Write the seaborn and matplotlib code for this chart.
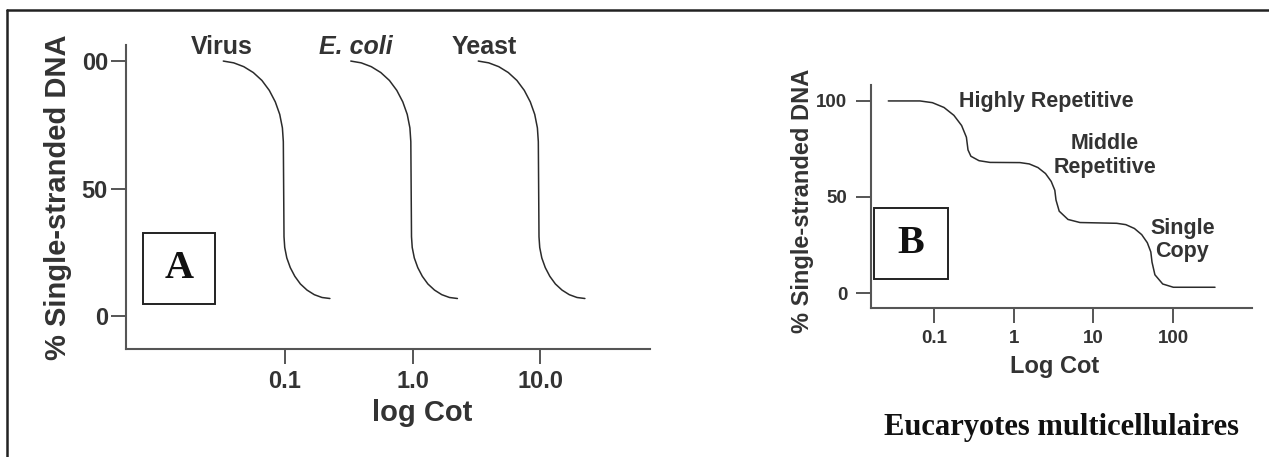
import numpy as np
import pandas as pd
import matplotlib
matplotlib.use("Agg")
import matplotlib.pyplot as plt
from matplotlib.patches import Rectangle
from matplotlib.lines import Line2D
from matplotlib.ticker import NullLocator, FixedLocator, FixedFormatter
import seaborn as sns

# ---------------- data ----------------
# Panel A: renaturation curves (Cot, % single-stranded)
virus_cot = [0.0328, 0.0396, 0.0475, 0.0564, 0.0659, 0.0753, 0.0839, 0.0909,
             0.0954, 0.0970, 0.0982, 0.0995, 0.1033, 0.110, 0.1194, 0.132,
             0.1488, 0.1697, 0.195, 0.225]
ecoli_cot = [0.328, 0.396, 0.475, 0.564, 0.659, 0.753, 0.839, 0.909,
             0.954, 0.970, 0.982, 0.995, 1.033, 1.10, 1.194, 1.32,
             1.488, 1.697, 1.95, 2.25]
yeast_cot = [3.28, 3.96, 4.75, 5.64, 6.59, 7.53, 8.39, 9.09,
             9.54, 9.70, 9.82, 9.95, 10.33, 11.0, 11.94, 13.2,
             14.88, 16.97, 19.5, 22.5]
curve_a_pct = [100, 99.3, 97.8, 95.5, 92.4, 88.5, 84.0, 79.1,
               73.8, 68.4, 31.1, 26.9, 22.8, 19.0, 15.6, 12.6,
               10.2, 8.4, 7.3, 6.9]
a_series = ["Virus", "E. coli", "Yeast"]
a_label_cot = [0.032, 0.36, 3.64]

a_xticks = [0.1, 1.0, 10.0]
a_xticklabels = ["0.1", "1.0", "10.0"]
a_yticks = [0, 50, 100]
a_yticklabels = ["0", "50", "00"]

# Panel B: eukaryote curve
euk_cot = [0.0267, 0.0667, 0.0955, 0.1335, 0.1777, 0.2220, 0.2550, 0.2671,
           0.2904, 0.3669, 0.5042, 1.20, 1.569, 2.018, 2.506, 2.954, 3.279,
           3.394, 3.724, 4.800, 6.790, 19.60, 25.50, 32.69, 40.36, 47.46,
           52.51, 54.36, 59.10, 74.06, 100.6, 335.6]
euk_pct = [100, 100, 99.1, 96.6, 92.5, 87.2, 81.1, 74.5,
           71.2, 68.9, 68.0, 67.9, 67.2, 65.3, 62.2, 58.1, 53.5,
           48.4, 42.6, 38.3, 36.7, 36.3, 35.6, 33.6, 30.4, 26.2,
           21.4, 16.1, 9.5, 4.7, 3.0, 3.0]
b_fractions = ["Highly Repetitive", "Middle\nRepetitive", "Single\nCopy"]
b_frac_cot = [2.54, 14.0, 131]
b_frac_pct = [99.5, 71.6, 27.6]

b_xticks = [0.1, 1, 10, 100]
b_xticklabels = ["0.1", "1", "10", "100"]
b_yticks = [0, 50, 100]
b_yticklabels = ["0", "50", "100"]

# ---------------- style ----------------
sns.set_theme(style="ticks")
plt.rcParams["font.family"] = ["Liberation Sans", "DejaVu Sans"]
plt.rcParams["font.weight"] = "bold"

W, H = 1269, 457
fig = plt.figure(figsize=(W / 100, H / 100), dpi=100)
fig.patch.set_facecolor("white")

txt = "#333333"
axc = "#555555"
curve_c = "#2b2b2b"


def px_axes(x0, y0, x1, y1):
    return fig.add_axes([x0 / W, 1 - y1 / H, (x1 - x0) / W, (y1 - y0) / H])


def style_axes(ax, tick_size, pad_x, pad_y):
    for s in ["top", "right"]:
        ax.spines[s].set_visible(False)
    for s in ["left", "bottom"]:
        ax.spines[s].set_color(axc)
        ax.spines[s].set_linewidth(1.5)
    ax.set_xscale("log")
    ax.xaxis.set_minor_locator(NullLocator())
    ax.yaxis.set_minor_locator(NullLocator())
    ax.tick_params(axis="both", direction="out", length=11, width=1.4,
                   color=axc, labelcolor=txt, labelsize=tick_size)
    ax.tick_params(axis="x", pad=pad_x)
    ax.tick_params(axis="y", pad=pad_y)
    ax.set_facecolor("white")
    ax.grid(False)


# ---------------- Panel A ----------------
axA = px_axes(126, 45, 650, 349)
for cot in [virus_cot, ecoli_cot, yeast_cot]:
    sns.lineplot(x=cot, y=curve_a_pct, ax=axA, estimator=None, sort=False,
                 color=curve_c, linewidth=1.1)
style_axes(axA, 17, 4, 2)
axA.set_xlim(0.00566, 72.9)
axA.set_ylim(-12.9, 106.3)
axA.xaxis.set_major_locator(FixedLocator(a_xticks))
axA.xaxis.set_major_formatter(FixedFormatter(a_xticklabels))
axA.yaxis.set_major_locator(FixedLocator(a_yticks))
axA.yaxis.set_major_formatter(FixedFormatter(a_yticklabels))
axA.set_xlabel("log Cot", fontsize=21, fontweight="bold", color=txt)
axA.xaxis.set_label_coords(0.565, -0.165)
axA.set_ylabel("% Single-stranded DNA", fontsize=21, fontweight="bold", color=txt)
axA.yaxis.set_label_coords(-0.103, 0.5)
for name, cx in zip(a_series, a_label_cot):
    axA.text(cx, 105.5, name, ha="center", va="center", fontsize=18,
             fontweight="bold", color=txt,
             fontstyle="italic" if name == "E. coli" else "normal",
             clip_on=False)
axA.add_patch(Rectangle((0.0324, 0.148), 0.1374, 0.2336, transform=axA.transAxes,
                        fill=False, edgecolor="#222222", linewidth=1.4, clip_on=False))
axA.text(0.101, 0.265, "A", transform=axA.transAxes, ha="center", va="center",
         fontsize=29, fontweight="bold", family=["Liberation Serif", "DejaVu Serif"],
         color="#111111")

# ---------------- Panel B ----------------
axB = px_axes(871, 85, 1252, 308)
sns.lineplot(x=euk_cot, y=euk_pct, ax=axB, estimator=None, sort=False,
             color=curve_c, linewidth=1.1)
style_axes(axB, 13.5, 5, 6)
axB.set_xlim(0.0162, 977)
axB.set_ylim(-7.8, 108.3)
axB.xaxis.set_major_locator(FixedLocator(b_xticks))
axB.xaxis.set_major_formatter(FixedFormatter(b_xticklabels))
axB.yaxis.set_major_locator(FixedLocator(b_yticks))
axB.yaxis.set_major_formatter(FixedFormatter(b_yticklabels))
axB.set_xlabel("Log Cot", fontsize=17, fontweight="bold", color=txt)
axB.xaxis.set_label_coords(0.483, -0.21)
axB.set_ylabel("% Single-stranded DNA", fontsize=17, fontweight="bold", color=txt)
axB.yaxis.set_label_coords(-0.150, 0.48)
for name, cx, cy in zip(b_fractions, b_frac_cot, b_frac_pct):
    axB.text(cx, cy, name, ha="center", va="center", fontsize=15.5,
             fontweight="bold", color=txt, multialignment="center",
             linespacing=1.15, clip_on=False)
axB.add_patch(Rectangle((0.0079, 0.130), 0.194, 0.318, transform=axB.transAxes,
                        fill=False, edgecolor="#222222", linewidth=1.4, clip_on=False))
axB.text(0.105, 0.289, "B", transform=axB.transAxes, ha="center", va="center",
         fontsize=29, fontweight="bold", family=["Liberation Serif", "DejaVu Serif"],
         color="#111111")

fig.text(1061 / W, 1 - 428 / H, "Eucaryotes multicellulaires", ha="center",
         va="center", fontsize=22, fontweight="bold",
         family=["Liberation Serif", "DejaVu Serif"], color="#111111")

# outer frame (left and top edges)
fig.add_artist(Line2D([7.3 / W, 7.3 / W], [0, 1 - 10 / H], transform=fig.transFigure,
                      color="#222222", linewidth=1.8))
fig.add_artist(Line2D([7.3 / W, 1], [1 - 10 / H, 1 - 10 / H], transform=fig.transFigure,
                      color="#222222", linewidth=1.8))

fig.savefig("out.png", dpi=100, facecolor="white")
